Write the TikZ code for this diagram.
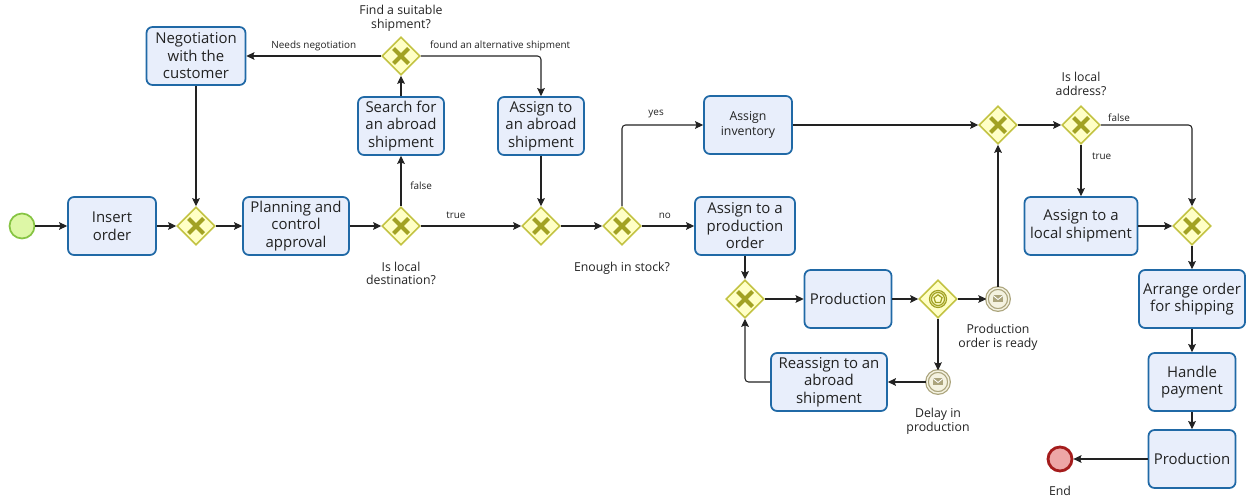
\documentclass[tikz,border=0pt]{standalone}
\usepackage{fontspec}
\setmainfont{Open Sans}
\usetikzlibrary{arrows.meta, shapes.geometric}

\definecolor{ink}{HTML}{222222}
\definecolor{taskfill}{HTML}{E8EEFB}
\definecolor{taskline}{HTML}{2069A6}
\definecolor{gatefill}{HTML}{FFFFC6}
\definecolor{gateline}{HTML}{C3C343}
\definecolor{gatemark}{HTML}{A2A224}
\definecolor{msgline}{HTML}{ABA47C}
\definecolor{msgfill}{HTML}{F4F2E0}
\definecolor{startfill}{HTML}{DDF7A6}
\definecolor{startline}{HTML}{86C443}
\definecolor{endfill}{HTML}{EDA6A6}
\definecolor{endline}{HTML}{A41C1C}

\begin{document}
\begin{tikzpicture}[x=0.02cm, y=-0.02cm, ->, >={Stealth[length=4.6pt,width=4.4pt,inset=0.8pt]},
      every node/.append style={text=ink},
      task/.style={draw=taskline, fill=taskfill, line width=1pt, rounded corners=0.12cm, align=center,
        minimum height=1.16cm, inner sep=1pt, font=\fontsize{8.5}{10}\selectfont},
      gate/.style={diamond, draw=gateline, fill=gatefill, line width=0.9pt, minimum size=0.76cm, inner sep=0pt},
      xgate/.style={gate, path picture={
        \draw[xmark] ([shift={(-7.5,-7.5)}]path picture bounding box.center) -- ([shift={(7.5,7.5)}]path picture bounding box.center)
          ([shift={(-7.5,7.5)}]path picture bounding box.center) -- ([shift={(7.5,-7.5)}]path picture bounding box.center);}},
      evgate/.style={gate, path picture={
        \draw[evmark] (path picture bounding box.center) circle[radius=0.17cm] circle[radius=0.13cm];
        \draw[evmark] ([shift={(90:0.085cm)}]path picture bounding box.center)
          \foreach \a in {162,234,306,18} {-- ([shift={(\a:0.085cm)}]path picture bounding box.center)} -- cycle;}},
      msg/.style={circle, draw=msgline, double=msgfill, double distance=0.8pt, line width=0.7pt, fill=msgfill,
        minimum size=0.44cm, inner sep=0pt, path picture={
        \fill[msgline] ([shift={(-5,-3.5)}]path picture bounding box.center) rectangle ([shift={(5,3.5)}]path picture bounding box.center);
        \draw[-, white, line width=0.5pt] ([shift={(-5,-3.5)}]path picture bounding box.center) -- ([shift={(0,0.5)}]path picture bounding box.center)
          -- ([shift={(5,-3.5)}]path picture bounding box.center);}},
      evlabel/.style={font=\fontsize{7}{7.9}\selectfont, align=center}]
    \tikzstyle{xmark} = [-, draw=gatemark, line width=2.3pt]
    \tikzstyle{evmark} = [-, draw=gatemark, line width=0.7pt]
    \tikzstyle{flow} = [draw=ink, line width=0.6pt, rounded corners=2pt]
    \tikzstyle{flowlabel} = [font=\fontsize{5.65}{6.5}\selectfont, inner sep=1pt]
    \useasboundingbox (0,0) rectangle (1246,499);
    \node[circle, draw=startline, fill=startfill, line width=1pt, minimum size=0.5cm, inner sep=0pt] (start) at (22,226) {};
    \node[task, minimum width=1.76cm] (insert) at (112,226) {Insert\\order};
    \node[xgate] (g1) at (196,226) {};
    \node[task, minimum width=2.12cm] (planning) at (296,226) {Planning and\\control\\approval};
    \node[xgate, label={[evlabel, label distance=5.5pt]below:{Is local\\destination?}}] (localdest) at (401,226) {};
    \node[task, minimum width=1.72cm] (search) at (401,126) {Search for\\an abroad\\shipment};
    \node[xgate, label={[evlabel, label distance=-1pt]above:{Find a suitable\\shipment?}}] (suitable) at (401,56) {};
    \node[task, minimum width=1.98cm] (nego) at (196,56) {Negotiation\\with the\\customer};
    \node[task, minimum width=1.72cm] (abroad) at (541,126) {Assign to\\an abroad\\shipment};
    \node[xgate] (g4) at (541,226) {};
    \node[xgate, label={[evlabel, label distance=5.5pt]below:{Enough in stock?}}] (stock) at (622,226) {};
    \node[task, minimum width=1.76cm, font=\fontsize{7}{8.6}\selectfont] (inventory) at (748,125) {Assign\\inventory};
    \node[task, minimum width=2cm] (prodorder) at (745,226) {Assign to a\\production\\order};
    \node[xgate] (g6) at (745,299) {};
    \node[task, minimum width=1.74cm] (production) at (848,299) {Production};
    \node[evgate] (events) at (938,299) {};
    \node[msg, label={[evlabel, label distance=4pt]below:{Production\\order is ready}}] (ready) at (998,299) {};
    \node[msg, label={[evlabel, label distance=5pt]below:{Delay in\\production}}] (delay) at (938,382) {};
    \node[task, minimum width=2.32cm] (reassign) at (829,382) {Reassign to an\\abroad\\shipment};
    \node[xgate] (g8) at (998,125) {};
    \node[xgate, label={[evlabel, label distance=2pt]above:{Is local\\address?}}] (address) at (1081,125) {};
    \node[task, minimum width=2.26cm] (localship) at (1081,226) {Assign to a\\local shipment};
    \node[xgate] (g10) at (1192,226) {};
    \node[task, minimum width=2.12cm] (arrange) at (1192,299) {Arrange order\\for shipping};
    \node[task, minimum width=1.74cm] (payment) at (1192,382) {Handle\\payment};
    \node[task, minimum width=1.74cm] (production2) at (1192,459) {Production};
    \node[circle, draw=endline, fill=endfill, line width=1.6pt, minimum size=0.48cm, inner sep=0pt,
      label={[evlabel, label distance=4.5pt]below:End}] (finish) at (1060,459) {};
    \draw[flow] (start) -- (insert);
    \draw[flow] (insert) -- (g1);
    \draw[flow] (g1) -- (planning);
    \draw[flow] (planning) -- (localdest);
    \draw[flow] (localdest) -- node[flowlabel, above=3pt, pos=.35] {true} (g4);
    \draw[flow] (localdest) -- node[flowlabel, right=4pt, pos=.4] {false} (search);
    \draw[flow] (search) -- (suitable);
    \draw[flow] (suitable) -- node[flowlabel, above=1.5pt] {Needs negotiation} (nego);
    \draw[flow] (suitable) -| node[flowlabel, above=1.5pt, pos=.33] {found an alternative shipment} (abroad);
    \draw[flow] (nego) -- (g1);
    \draw[flow] (abroad) -- (g4);
    \draw[flow] (g4) -- (stock);
    \draw[flow] (stock) |- node[flowlabel, above=3pt, pos=.71] {yes} (inventory);
    \draw[flow] (stock) -- node[flowlabel, above=3pt, pos=.44] {no} (prodorder);
    \draw[flow] (prodorder) -- (g6);
    \draw[flow] (g6) -- (production);
    \draw[flow] (production) -- (events);
    \draw[flow] (events) -- (ready);
    \draw[flow] (events) -- (delay);
    \draw[flow] (delay) -- (reassign);
    \draw[flow] (reassign) -| (g6);
    \draw[flow] (ready) -- (g8);
    \draw[flow] (inventory) -- (g8);
    \draw[flow] (g8) -- (address);
    \draw[flow] (address) -| node[flowlabel, above=0.5pt, pos=.1] {false} (g10);
    \draw[flow] (address) -- node[flowlabel, right=5pt, pos=.23] {true} (localship);
    \draw[flow] (localship) -- (g10);
    \draw[flow] (g10) -- (arrange);
    \draw[flow] (arrange) -- (payment);
    \draw[flow] (payment) -- (production2);
    \draw[flow] (production2) -- (finish);
  \end{tikzpicture}
\end{document}
